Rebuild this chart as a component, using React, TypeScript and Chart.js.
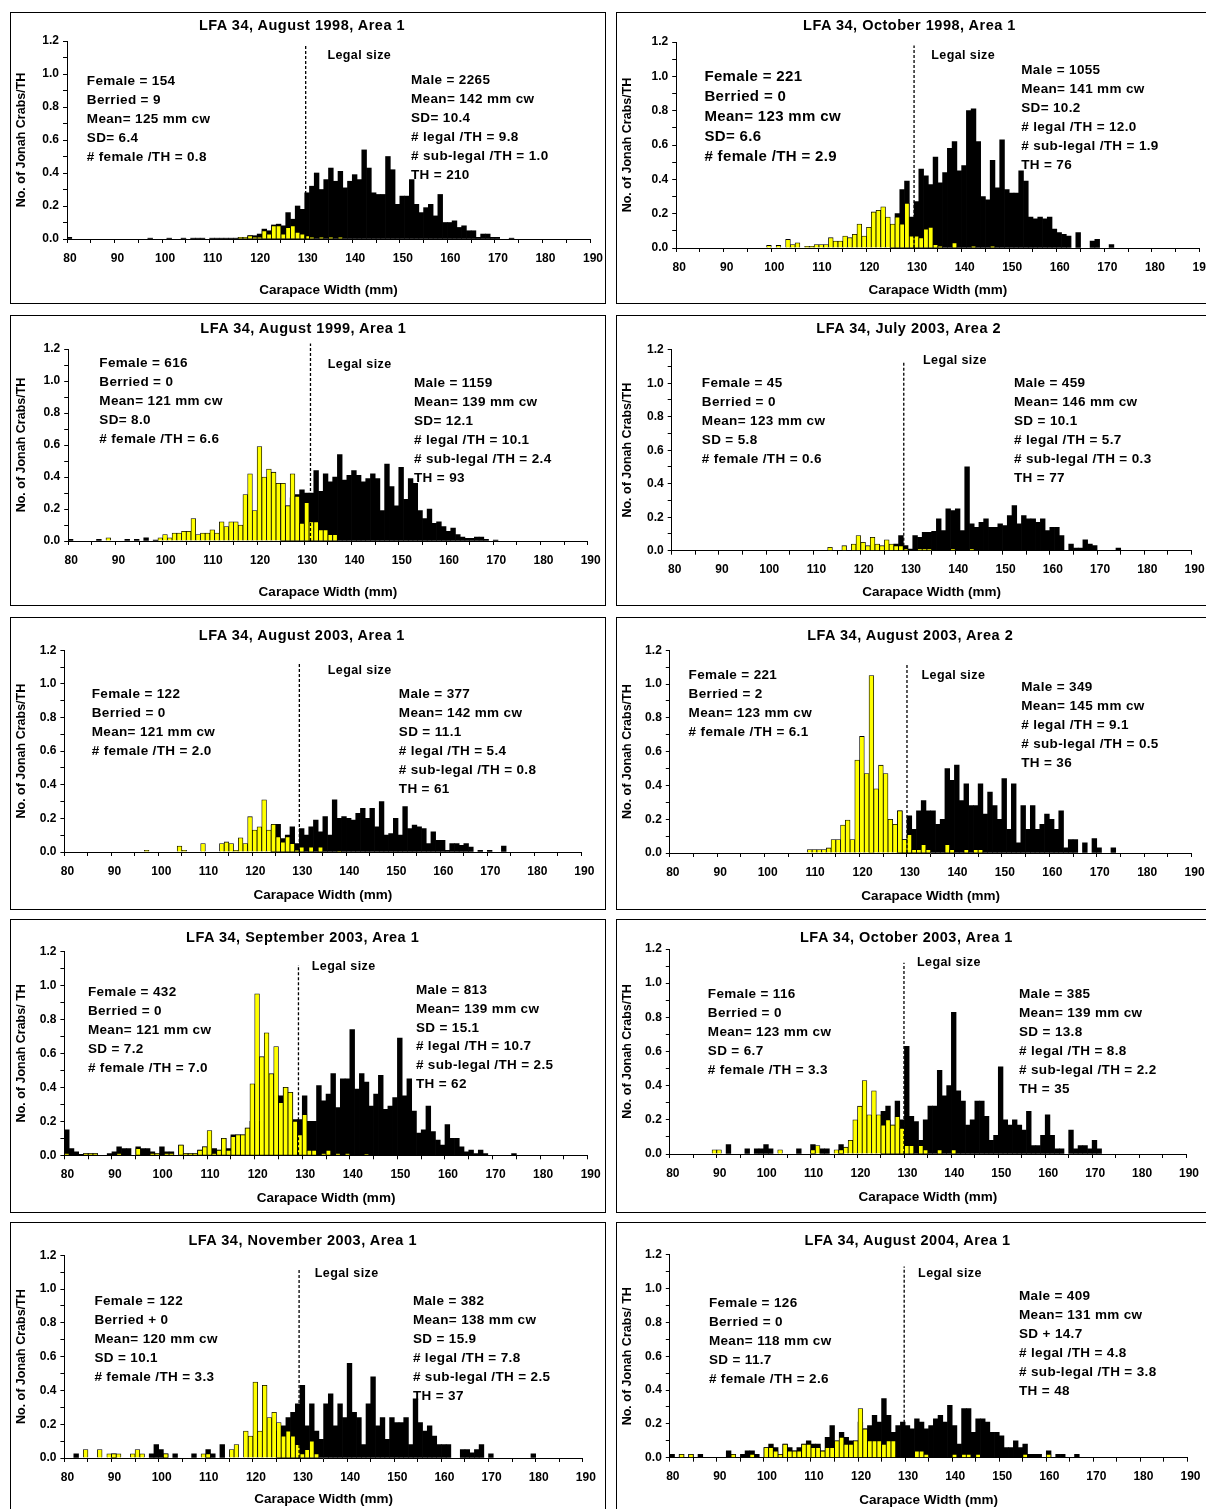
import React, { useEffect, useRef } from 'react';
import { Chart, registerables } from 'chart.js';

Chart.register(...registerables);

const FONT = '"Liberation Sans", Arial, Helvetica, sans-serif';

// ---------- axes / tick labels ----------
const xMin = 80;
const xMax = 190;
const xTickStep = 5;
const xLabelStep = 10;
const yMin = 0;
const yMax = 1.2;
const yTickStep = 0.1;
const xAxisTitle = 'Carapace Width (mm)';
const legalLabel = 'Legal size';

// ---------- data: No. of Jonah crabs / TH per 1 mm bin (value i -> bin start + i) ----------
// LFA 34, August 1998, Area 1
const aug1998A1FemaleStart = 110;
const aug1998A1Female = [
  0, 0, 0, 0, 0, 0, 0.01, 0.01, 0.02, 0.01,
  0.01, 0.05, 0.03, 0.08, 0.08, 0.03, 0.07, 0.08, 0.04, 0.03,
  0.02, 0.01, 0, 0.01, 0, 0.01, 0, 0.01,
];
const aug1998A1MaleStart = 80;
const aug1998A1Male = [
  0.01, 0, 0, 0, 0, 0, 0, 0, 0, 0,
  0, 0, 0, 0, 0, 0, 0, 0.005, 0, 0,
  0, 0.005, 0, 0, 0.005, 0, 0.005, 0.005, 0.005, 0,
  0.005, 0.005, 0.005, 0.005, 0.005, 0.005, 0.01, 0.01, 0.02, 0.02,
  0.03, 0.06, 0.05, 0.085, 0.09, 0.08, 0.16, 0.12, 0.2, 0.18,
  0.28, 0.32, 0.4, 0.3, 0.36, 0.43, 0.35, 0.41, 0.31, 0.35,
  0.39, 0.36, 0.54, 0.43, 0.28, 0.27, 0.27, 0.5, 0.42, 0.21,
  0.26, 0.26, 0.36, 0.21, 0.16, 0.19, 0.21, 0.14, 0.27, 0.1,
  0.1, 0.11, 0.07, 0.08, 0.05, 0.05, 0.01, 0.03, 0.03, 0.01,
  0.01, 0, 0, 0.005,
];

// LFA 34, October 1998, Area 1
const oct1998A1FemaleStart = 90;
const oct1998A1Female = [
  0, 0, 0, 0, 0, 0, 0, 0, 0, 0.015,
  0, 0.015, 0, 0.05, 0.02, 0.03, 0, 0.01, 0.01, 0.02,
  0.02, 0.02, 0.06, 0.04, 0.04, 0.07, 0.06, 0.08, 0.14, 0.07,
  0.12, 0.21, 0.22, 0.24, 0.18, 0.14, 0.18, 0.14, 0.26, 0.07,
  0.07, 0.06, 0.11, 0.12, 0.02, 0.01, 0, 0, 0.03, 0,
  0, 0, 0.01, 0, 0, 0, 0.01,
];
const oct1998A1MaleStart = 120;
const oct1998A1Male = [
  0, 0, 0, 0, 0, 0.1, 0.2, 0.34, 0.39, 0.18,
  0.27, 0.46, 0.42, 0.37, 0.53, 0.38, 0.44, 0.58, 0.62, 0.45,
  0.48, 0.8, 0.81, 0.62, 0.3, 0.28, 0.51, 0.35, 0.63, 0.34,
  0.32, 0.32, 0.45, 0.39, 0.18, 0.17, 0.18, 0.17, 0.18, 0.11,
  0.09, 0.08, 0.07, 0, 0.09, 0, 0, 0.04, 0.05, 0,
  0, 0.02,
];

// LFA 34, August 1999, Area 1
const aug1999A1FemaleStart = 80;
const aug1999A1Female = [
  0, 0, 0, 0, 0, 0, 0, 0, 0.02, 0,
  0, 0, 0, 0, 0, 0, 0, 0, 0, 0.02,
  0.04, 0.02, 0.05, 0.05, 0.06, 0.06, 0.14, 0.04, 0.05, 0.05,
  0.07, 0.05, 0.12, 0.09, 0.12, 0.12, 0.1, 0.29, 0.42, 0.19,
  0.59, 0.4, 0.45, 0.43, 0.36, 0.36, 0.22, 0.42, 0.28, 0.11,
  0.24, 0.12, 0.12, 0.07, 0.07, 0.04, 0.04,
];
const aug1999A1MaleStart = 80;
const aug1999A1Male = [
  0.01, 0, 0, 0, 0, 0, 0.01, 0, 0, 0,
  0, 0, 0.01, 0, 0.01, 0, 0.02, 0, 0.005, 0,
  0, 0, 0, 0, 0, 0, 0, 0, 0, 0,
  0, 0, 0, 0, 0, 0, 0, 0, 0, 0,
  0, 0, 0, 0, 0, 0.2, 0.22, 0.27, 0.29, 0.32,
  0.3, 0.3, 0.44, 0.31, 0.42, 0.37, 0.4, 0.54, 0.38, 0.41,
  0.44, 0.41, 0.37, 0.39, 0.42, 0.39, 0.19, 0.48, 0.34, 0.22,
  0.46, 0.26, 0.39, 0.36, 0.19, 0.14, 0.2, 0.11, 0.12, 0.09,
  0.06, 0.08, 0.04, 0.025, 0.017, 0.017, 0.025, 0.025, 0.01, 0,
  0.005,
];

// LFA 34, July 2003, Area 2
const jul2003A2FemaleStart = 110;
const jul2003A2Female = [
  0, 0, 0, 0.02, 0, 0, 0.03, 0, 0.04, 0.09,
  0.05, 0.03, 0.08, 0.04, 0.03, 0.065, 0.04, 0.03, 0.03, 0.01,
  0, 0, 0.01, 0.01, 0.01, 0, 0, 0, 0, 0.01,
  0, 0, 0, 0.01,
];
const jul2003A2MaleStart = 120;
const jul2003A2Male = [
  0, 0, 0, 0, 0, 0, 0.03, 0.04, 0.09, 0.03,
  0.01, 0.09, 0.08, 0.11, 0.11, 0.115, 0.19, 0.12, 0.25, 0.24,
  0.25, 0.12, 0.5, 0.16, 0.14, 0.17, 0.19, 0.14, 0.14, 0.16,
  0.15, 0.21, 0.27, 0.16, 0.21, 0.19, 0.19, 0.17, 0.19, 0.12,
  0.14, 0.14, 0.09, 0, 0.04, 0.015, 0.015, 0.065, 0.04, 0.03,
  0, 0, 0, 0, 0.015,
];

// LFA 34, August 2003, Area 1
const aug2003A1FemaleStart = 90;
const aug2003A1Female = [
  0, 0, 0, 0, 0, 0, 0, 0.01, 0, 0,
  0, 0, 0, 0, 0.035, 0.01, 0, 0, 0, 0.05,
  0, 0, 0, 0.05, 0.06, 0.05, 0.01, 0.085, 0.05, 0.21,
  0.13, 0.15, 0.31, 0.13, 0.165, 0.09, 0.06, 0.09, 0.05, 0.01,
  0.03, 0, 0.03, 0, 0.03, 0, 0, 0, 0.005,
];
const aug2003A1MaleStart = 120;
const aug2003A1Male = [
  0, 0, 0, 0, 0.16, 0.165, 0.08, 0.1, 0.15, 0.05,
  0.14, 0.1, 0.15, 0.19, 0.12, 0.21, 0.1, 0.31, 0.2, 0.21,
  0.2, 0.19, 0.23, 0.26, 0.2, 0.26, 0.15, 0.3, 0.1, 0.11,
  0.2, 0.1, 0.27, 0.14, 0.16, 0.15, 0.14, 0.05, 0.12, 0.07,
  0.07, 0.01, 0.05, 0.05, 0.04, 0.05, 0.03, 0, 0.01, 0,
  0.01, 0, 0, 0.035,
];

// LFA 34, August 2003, Area 2
const aug2003A2FemaleStart = 100;
const aug2003A2Female = [
  0, 0, 0, 0, 0, 0, 0, 0, 0, 0.02,
  0.02, 0.02, 0.02, 0.03, 0.08, 0.08, 0.165, 0.195, 0.08, 0.55,
  0.69, 0.47, 1.05, 0.38, 0.52, 0.47, 0.2, 0.17, 0.25, 0.08,
  0.11, 0.02, 0.02, 0.05, 0.02, 0, 0, 0, 0.05, 0.02,
  0, 0, 0.02, 0, 0.02, 0.02,
];
const aug2003A2MaleStart = 120;
const aug2003A2Male = [
  0, 0, 0, 0, 0, 0, 0, 0, 0.25, 0.08,
  0.22, 0.14, 0.25, 0.31, 0.25, 0.25, 0.17, 0.2, 0.5, 0.43,
  0.52, 0.31, 0.41, 0.28, 0.28, 0.41, 0.23, 0.36, 0.28, 0.2,
  0.44, 0.14, 0.41, 0.06, 0.28, 0.14, 0.28, 0.14, 0.17, 0.23,
  0.2, 0.14, 0.25, 0.03, 0.08, 0.08, 0, 0.06, 0, 0.085,
  0.03, 0, 0, 0.03,
];

// LFA 34, September 2003, Area 1
const sep2003A1FemaleStart = 80;
const sep2003A1Female = [
  0.01, 0, 0, 0, 0.01, 0.01, 0.01, 0, 0, 0,
  0, 0.01, 0, 0, 0, 0.04, 0, 0, 0.01, 0.01,
  0, 0.01, 0.01, 0, 0.06, 0.01, 0.01, 0.01, 0.03, 0.05,
  0.145, 0.01, 0.03, 0.1, 0.03, 0.11, 0.12, 0.12, 0.16, 0.42,
  0.95, 0.58, 0.72, 0.48, 0.64, 0.31, 0.4, 0.37, 0.2, 0.12,
  0.24, 0.03, 0.03, 0, 0.01, 0.03, 0, 0.01, 0, 0.01,
  0, 0, 0, 0.005,
];
const sep2003A1MaleStart = 80;
const sep2003A1Male = [
  0.15, 0.04, 0.02, 0.005, 0.01, 0.01, 0.01, 0, 0, 0.01,
  0.02, 0.05, 0.04, 0.04, 0, 0.05, 0.04, 0.04, 0.02, 0.01,
  0.05, 0.02, 0.02, 0, 0.06, 0.01, 0.01, 0.01, 0.03, 0.05,
  0.03, 0.04, 0.03, 0.1, 0.04, 0.12, 0.12, 0.12, 0.16, 0.2,
  0.2, 0.2, 0.25, 0.3, 0.35, 0.35, 0.4, 0.37, 0.21, 0.21,
  0.35, 0.2, 0.2, 0.41, 0.32, 0.36, 0.48, 0.28, 0.45, 0.45,
  0.74, 0.39, 0.48, 0.43, 0.29, 0.36, 0.47, 0.27, 0.29, 0.34,
  0.69, 0.35, 0.45, 0.26, 0.13, 0.15, 0.29, 0.14, 0.09, 0.06,
  0.18, 0.1, 0.1, 0.05, 0.02, 0.03, 0.01, 0.03, 0.01, 0,
  0, 0, 0, 0, 0.01,
];

// LFA 34, October 2003, Area 1
const oct2003A1FemaleStart = 80;
const oct2003A1Female = [
  0, 0, 0, 0, 0, 0, 0, 0, 0, 0.025,
  0.025, 0, 0, 0, 0, 0, 0, 0, 0, 0,
  0, 0, 0, 0.025, 0, 0, 0, 0, 0, 0,
  0.025, 0.05, 0, 0, 0, 0.025, 0.025, 0.04, 0.08, 0.2,
  0.28, 0.43, 0.23, 0.37, 0.23, 0.17, 0.2, 0.17, 0.22, 0.15,
  0.05, 0.05, 0, 0.05, 0.025, 0, 0, 0.025, 0, 0,
  0.025,
];
const oct2003A1MaleStart = 90;
const oct2003A1Male = [
  0, 0, 0.055, 0, 0, 0, 0.03, 0, 0.03, 0.03,
  0.055, 0.03, 0, 0, 0, 0, 0, 0.03, 0, 0,
  0.055, 0, 0.03, 0.03, 0, 0, 0.055, 0, 0, 0,
  0, 0, 0, 0, 0, 0.25, 0.28, 0.17, 0.31, 0.2,
  0.63, 0.22, 0.19, 0.08, 0.2, 0.28, 0.28, 0.49, 0.34, 0.4,
  0.83, 0.37, 0.31, 0.17, 0.2, 0.31, 0.31, 0.22, 0.08, 0.11,
  0.51, 0.2, 0.17, 0.2, 0.17, 0.14, 0.25, 0.05, 0.05, 0.11,
  0.23, 0.11, 0.03, 0.03, 0, 0.14, 0.03, 0.05, 0.05, 0.03,
  0.08, 0.03,
];

// LFA 34, November 2003, Area 1
const nov2003A1FemaleStart = 80;
const nov2003A1Female = [
  0, 0, 0, 0, 0.05, 0, 0, 0.05, 0, 0.025,
  0.025, 0.025, 0, 0, 0.025, 0.05, 0.025, 0, 0, 0,
  0, 0.025, 0, 0, 0, 0, 0, 0, 0, 0.025,
  0.025, 0, 0, 0, 0, 0.05, 0.08, 0, 0.16, 0.13,
  0.45, 0.16, 0.43, 0.24, 0.27, 0.21, 0.13, 0.16, 0.13, 0.08,
  0.025, 0.05, 0.1, 0.025,
];
const nov2003A1MaleStart = 80;
const nov2003A1Male = [
  0, 0, 0.025, 0, 0, 0, 0, 0, 0, 0,
  0.025, 0, 0, 0, 0, 0, 0, 0, 0.025, 0.08,
  0.05, 0.025, 0, 0.025, 0, 0, 0, 0.025, 0, 0,
  0.05, 0.025, 0, 0.08, 0, 0, 0, 0, 0, 0,
  0, 0, 0, 0, 0, 0.16, 0.19, 0.24, 0.27, 0.32,
  0.43, 0.19, 0.32, 0.16, 0.11, 0.32, 0.38, 0.19, 0.32, 0.24,
  0.56, 0.27, 0.24, 0.08, 0.32, 0.48, 0.19, 0.24, 0.11, 0.24,
  0.21, 0.21, 0.24, 0.08, 0.35, 0.21, 0.16, 0.19, 0.13, 0.08,
  0.08, 0.08, 0, 0, 0.05, 0.05, 0.03, 0.05, 0.08, 0,
  0.025, 0, 0, 0, 0, 0, 0, 0, 0, 0.025,
];

// LFA 34, August 2004, Area 1
const aug2004A1FemaleStart = 80;
const aug2004A1Female = [
  0, 0, 0.02, 0, 0.02, 0, 0, 0, 0, 0,
  0, 0, 0, 0.02, 0, 0, 0, 0.02, 0, 0,
  0.06, 0.06, 0.04, 0.02, 0.08, 0.04, 0.04, 0.04, 0.08, 0.08,
  0.06, 0.06, 0.04, 0.06, 0.06, 0.1, 0.12, 0.08, 0.08, 0.1,
  0.29, 0.17, 0.1, 0.1, 0.1, 0.08, 0.1, 0.1, 0, 0,
  0, 0, 0.04, 0.04, 0.02, 0, 0, 0, 0, 0,
  0.02, 0, 0.02, 0.02, 0, 0.02, 0, 0, 0, 0,
  0, 0, 0, 0, 0, 0.02, 0, 0, 0, 0,
  0.02,
];
const aug2004A1MaleStart = 80;
const aug2004A1Male = [
  0.02, 0, 0.02, 0, 0.02, 0, 0.02, 0, 0, 0,
  0, 0, 0.04, 0.02, 0, 0.02, 0.04, 0.04, 0.02, 0,
  0.06, 0.08, 0.06, 0.02, 0.08, 0.06, 0.04, 0.06, 0.08, 0.1,
  0.08, 0.08, 0.04, 0.12, 0.19, 0.1, 0.15, 0.12, 0.1, 0.1,
  0.21, 0.17, 0.19, 0.25, 0.21, 0.35, 0.25, 0.15, 0.19, 0.21,
  0.19, 0.17, 0.23, 0.21, 0.17, 0.19, 0.23, 0.25, 0.21, 0.31,
  0.19, 0.08, 0.29, 0.29, 0.15, 0.23, 0.23, 0.21, 0.15, 0.15,
  0.13, 0.06, 0.06, 0.1, 0.06, 0.08, 0.02, 0.02, 0.02, 0,
  0.04, 0, 0.02, 0.02, 0, 0, 0.02,
];

// ---------- panel definitions ----------
type TextBlock = { x: number; y: number; step: number; size: number; lines: string[] };
type PanelDef = {
  title: string;
  yTitle: string;
  femaleStart: number;
  female: number[];
  maleStart: number;
  male: number[];
  legal: number;
  legalTop: number;
  box: { x: number; y: number; w: number; h: number };
  area: { left: number; top: number; right: number; bottom: number };
  titlePos: { cx: number; cy: number };
  legalPos: { x: number; cy: number };
  xTitleCy: number;
  yTitleCx: number;
  femaleText: TextBlock;
  maleText: TextBlock;
};

const Y_TITLE = 'No. of Jonah Crabs/TH';
const Y_TITLE_SP = 'No. of Jonah Crabs/ TH';
const CANVAS_EXTRA = 30;

const panels: PanelDef[] = [
  {
    title: 'LFA 34, August 1998, Area 1', yTitle: Y_TITLE,
    femaleStart: aug1998A1FemaleStart, female: aug1998A1Female,
    maleStart: aug1998A1MaleStart, male: aug1998A1Male,
    legal: 130.2, legalTop: 1.18,
    box: { x: 10, y: 12, w: 596, h: 292 },
    area: { left: 57, top: 29, right: 580, bottom: 227 },
    titlePos: { cx: 292, cy: 12.7 }, legalPos: { x: 317.4, cy: 43.3 },
    xTitleCy: 278.3, yTitleCx: 11.4,
    femaleText: { x: 76.8, y: 69.3, step: 19, size: 13.5, lines: ['Female = 154', 'Berried = 9', 'Mean= 125 mm cw', 'SD= 6.4', '# female /TH = 0.8'] },
    maleText: { x: 401, y: 68.3, step: 19, size: 13.5, lines: ['Male = 2265', 'Mean= 142 mm cw', 'SD= 10.4', '# legal /TH = 9.8', '# sub-legal /TH = 1.0', 'TH = 210'] },
  },
  {
    title: 'LFA 34, October 1998, Area 1', yTitle: Y_TITLE,
    femaleStart: oct1998A1FemaleStart, female: oct1998A1Female,
    maleStart: oct1998A1MaleStart, male: oct1998A1Male,
    legal: 130, legalTop: 1.18,
    box: { x: 616, y: 12, w: 592, h: 292 },
    area: { left: 60.2, top: 30, right: 583.5, bottom: 236 },
    titlePos: { cx: 293.5, cy: 12.7 }, legalPos: { x: 315.3, cy: 42.7 },
    xTitleCy: 278.7, yTitleCx: 11.3,
    femaleText: { x: 88.4, y: 64, step: 20, size: 15, lines: ['Female = 221', 'Berried = 0', 'Mean= 123 mm cw', 'SD= 6.6', '# female /TH = 2.9'] },
    maleText: { x: 405.2, y: 58.3, step: 19, size: 13.5, lines: ['Male = 1055', 'Mean= 141 mm cw', 'SD= 10.2', '# legal /TH = 12.0', '# sub-legal /TH = 1.9', 'TH = 76'] },
  },
  {
    title: 'LFA 34, August 1999, Area 1', yTitle: Y_TITLE,
    femaleStart: aug1999A1FemaleStart, female: aug1999A1Female,
    maleStart: aug1999A1MaleStart, male: aug1999A1Male,
    legal: 131.3, legalTop: 1.235,
    box: { x: 10, y: 315, w: 596, h: 291 },
    area: { left: 58.2, top: 34, right: 577.7, bottom: 226 },
    titlePos: { cx: 293.4, cy: 13.3 }, legalPos: { x: 317.8, cy: 49 },
    xTitleCy: 277, yTitleCx: 11.4,
    femaleText: { x: 89.3, y: 47.7, step: 19, size: 13.5, lines: ['Female = 616', 'Berried = 0', 'Mean= 121 mm cw', 'SD= 8.0', '# female /TH = 6.6'] },
    maleText: { x: 404, y: 68.3, step: 19, size: 13.5, lines: ['Male = 1159', 'Mean= 139 mm cw', 'SD= 12.1', '# legal /TH = 10.1', '# sub-legal /TH = 2.4', 'TH = 93'] },
  },
  {
    title: 'LFA 34, July 2003, Area 2', yTitle: Y_TITLE,
    femaleStart: jul2003A2FemaleStart, female: jul2003A2Female,
    maleStart: jul2003A2MaleStart, male: jul2003A2Male,
    legal: 129.1, legalTop: 1.13,
    box: { x: 616, y: 315, w: 592, h: 291 },
    area: { left: 55.7, top: 34.7, right: 575.6, bottom: 235.7 },
    titlePos: { cx: 292.7, cy: 13.3 }, legalPos: { x: 307, cy: 45.3 },
    xTitleCy: 277.3, yTitleCx: 11.3,
    femaleText: { x: 85.8, y: 68.3, step: 19, size: 13.5, lines: ['Female = 45', 'Berried = 0', 'Mean= 123 mm cw', 'SD = 5.8', '# female /TH = 0.6'] },
    maleText: { x: 398, y: 67.7, step: 19, size: 13.5, lines: ['Male = 459', 'Mean= 146 mm cw', 'SD = 10.1', '# legal /TH = 5.7', '# sub-legal /TH = 0.3', 'TH = 77'] },
  },
  {
    title: 'LFA 34, August 2003, Area 1', yTitle: Y_TITLE,
    femaleStart: aug2003A1FemaleStart, female: aug2003A1Female,
    maleStart: aug2003A1MaleStart, male: aug2003A1Male,
    legal: 130, legalTop: 1.12,
    box: { x: 10, y: 617, w: 596, h: 293 },
    area: { left: 54.4, top: 33.3, right: 571.3, bottom: 235 },
    titlePos: { cx: 291.9, cy: 18.3 }, legalPos: { x: 317.8, cy: 52.7 },
    xTitleCy: 278.7, yTitleCx: 11.4,
    femaleText: { x: 81.7, y: 77.3, step: 19, size: 13.5, lines: ['Female = 122', 'Berried = 0', 'Mean= 121 mm cw', '# female /TH = 2.0'] },
    maleText: { x: 388.8, y: 77.3, step: 19, size: 13.5, lines: ['Male = 377', 'Mean= 142 mm cw', 'SD = 11.1', '# legal /TH = 5.4', '# sub-legal /TH = 0.8', 'TH = 61'] },
  },
  {
    title: 'LFA 34, August 2003, Area 2', yTitle: Y_TITLE,
    femaleStart: aug2003A2FemaleStart, female: aug2003A2Female,
    maleStart: aug2003A2MaleStart, male: aug2003A2Male,
    legal: 130, legalTop: 1.12,
    box: { x: 616, y: 617, w: 592, h: 293 },
    area: { left: 53.8, top: 33.3, right: 575.6, bottom: 236 },
    titlePos: { cx: 294.2, cy: 18.3 }, legalPos: { x: 305.5, cy: 57.7 },
    xTitleCy: 279.3, yTitleCx: 11.3,
    femaleText: { x: 72.6, y: 58.3, step: 19, size: 13.5, lines: ['Female = 221', 'Berried = 2', 'Mean= 123 mm cw', '# female /TH = 6.1'] },
    maleText: { x: 405.2, y: 70, step: 19, size: 13.5, lines: ['Male = 349', 'Mean= 145 mm cw', '# legal /TH = 9.1', '# sub-legal /TH = 0.5', 'TH = 36'] },
  },
  {
    title: 'LFA 34, September 2003, Area 1', yTitle: Y_TITLE_SP,
    femaleStart: sep2003A1FemaleStart, female: sep2003A1Female,
    maleStart: sep2003A1MaleStart, male: sep2003A1Male,
    legal: 129.2, legalTop: 1.12,
    box: { x: 10, y: 919, w: 596, h: 294 },
    area: { left: 54.4, top: 32.3, right: 577.7, bottom: 236.3 },
    titlePos: { cx: 292.7, cy: 18.3 }, legalPos: { x: 301.8, cy: 46.7 },
    xTitleCy: 279.3, yTitleCx: 11.4,
    femaleText: { x: 77.9, y: 72.7, step: 19, size: 13.5, lines: ['Female = 432', 'Berried = 0', 'Mean= 121 mm cw', 'SD = 7.2', '# female /TH = 7.0'] },
    maleText: { x: 405.9, y: 71, step: 18.8, size: 13.5, lines: ['Male = 813', 'Mean= 139 mm cw', 'SD = 15.1', '# legal /TH = 10.7', '# sub-legal /TH = 2.5', 'TH = 62'] },
  },
  {
    title: 'LFA 34, October 2003, Area 1', yTitle: Y_TITLE,
    femaleStart: oct2003A1FemaleStart, female: oct2003A1Female,
    maleStart: oct2003A1MaleStart, male: oct2003A1Male,
    legal: 129.9, legalTop: 1.12,
    box: { x: 616, y: 919, w: 592, h: 294 },
    area: { left: 53.8, top: 30, right: 570, bottom: 235 },
    titlePos: { cx: 290.4, cy: 17.7 }, legalPos: { x: 301, cy: 43.3 },
    xTitleCy: 278.3, yTitleCx: 11.3,
    femaleText: { x: 91.8, y: 75.3, step: 19, size: 13.5, lines: ['Female = 116', 'Berried = 0', 'Mean= 123 mm cw', 'SD = 6.7', '# female /TH = 3.3'] },
    maleText: { x: 403, y: 75.3, step: 19, size: 13.5, lines: ['Male = 385', 'Mean= 139 mm cw', 'SD = 13.8', '# legal /TH = 8.8', '# sub-legal /TH = 2.2', 'TH = 35'] },
  },
  {
    title: 'LFA 34, November 2003, Area 1', yTitle: Y_TITLE,
    femaleStart: nov2003A1FemaleStart, female: nov2003A1Female,
    maleStart: nov2003A1MaleStart, male: nov2003A1Male,
    legal: 129.8, legalTop: 1.12,
    box: { x: 10, y: 1222, w: 596, h: 290 },
    area: { left: 54.4, top: 33.3, right: 572.8, bottom: 236 },
    titlePos: { cx: 292.7, cy: 17.7 }, legalPos: { x: 304.8, cy: 50.7 },
    xTitleCy: 277.3, yTitleCx: 11.4,
    femaleText: { x: 84.4, y: 78.7, step: 19, size: 13.5, lines: ['Female = 122', 'Berried + 0', 'Mean= 120 mm cw', 'SD = 10.1', '# female /TH = 3.3'] },
    maleText: { x: 402.9, y: 78.7, step: 19, size: 13.5, lines: ['Male = 382', 'Mean= 138 mm cw', 'SD = 15.9', '# legal /TH = 7.8', '# sub-legal /TH = 2.5', 'TH = 37'] },
  },
  {
    title: 'LFA 34, August 2004, Area 1', yTitle: Y_TITLE_SP,
    femaleStart: aug2004A1FemaleStart, female: aug2004A1Female,
    maleStart: aug2004A1MaleStart, male: aug2004A1Male,
    legal: 129.8, legalTop: 1.13,
    box: { x: 616, y: 1222, w: 592, h: 290 },
    area: { left: 53.8, top: 32.7, right: 571.5, bottom: 235.7 },
    titlePos: { cx: 291.6, cy: 17.7 }, legalPos: { x: 302.1, cy: 50.7 },
    xTitleCy: 278.3, yTitleCx: 11.3,
    femaleText: { x: 92.9, y: 81, step: 19, size: 13.5, lines: ['Female = 126', 'Berried = 0', 'Mean= 118 mm cw', 'SD = 11.7', '# female /TH = 2.6'] },
    maleText: { x: 403, y: 74, step: 19, size: 13.5, lines: ['Male = 409', 'Mean= 131 mm cw', 'SD + 14.7', '# legal /TH = 4.8', '# sub-legal /TH = 3.8', 'TH = 48'] },
  },
];

function toBars(start: number, values: number[]) {
  const out: { x: number; y: number }[] = [];
  values.forEach((v, i) => {
    if (v > 0) out.push({ x: start + i + 0.5, y: v });
  });
  return out;
}

const textStyle = (size: number): React.CSSProperties => ({
  position: 'absolute',
  fontFamily: FONT,
  fontWeight: 'bold',
  fontSize: size,
  letterSpacing: '0.35px',
  lineHeight: '16px',
  height: 16,
  whiteSpace: 'nowrap',
  color: '#000',
});

function Panel({ p }: { p: PanelDef }) {
  const ref = useRef<HTMLCanvasElement | null>(null);
  const cw = p.box.w + CANVAS_EXTRA;

  useEffect(() => {
    const canvas = ref.current;
    if (!canvas) return;
    const { h } = p.box;
    const a = p.area;
    const tickFont = { family: FONT, size: 12, weight: 'bold' };
    const xTitleFont = { family: FONT, size: 13.5, weight: 'bold' };
    const yTitleFont = { family: FONT, size: 12.5, weight: 'bold' };
    const chart = new Chart(canvas, {
      type: 'bar',
      data: {
        datasets: [
          {
            type: 'line',
            label: legalLabel,
            data: [
              { x: p.legal, y: 0 },
              { x: p.legal, y: p.legalTop },
            ],
            borderColor: '#000',
            borderWidth: 1.3,
            borderDash: [3, 2],
            pointRadius: 0,
            fill: false,
            clip: false,
            order: 0,
          },
          {
            type: 'bar',
            label: 'Female',
            data: toBars(p.femaleStart, p.female),
            backgroundColor: '#ffff00',
            borderColor: '#000',
            borderWidth: 0.8,
            grouped: false,
            barPercentage: 1,
            categoryPercentage: 1,
            order: 1,
          },
          {
            type: 'bar',
            label: 'Male',
            data: toBars(p.maleStart, p.male),
            backgroundColor: '#000',
            borderColor: '#000',
            borderWidth: 0,
            grouped: false,
            barPercentage: 1,
            categoryPercentage: 1,
            order: 2,
          },
        ],
      },
      options: {
        responsive: false,
        maintainAspectRatio: false,
        animation: false,
        devicePixelRatio: 1,
        events: [],
        layout: { padding: { left: 0, top: a.top, right: cw - a.right, bottom: 0 } },
        plugins: {
          legend: { display: false },
          tooltip: { enabled: false },
          title: { display: false },
        },
        scales: {
          x: {
            type: 'linear',
            min: xMin,
            max: xMax,
            offset: false,
            afterFit: (s: any) => {
              s.height = h - a.bottom;
            },
            border: { display: true, color: '#000', width: 1 },
            grid: { display: true, drawOnChartArea: false, drawTicks: true, tickLength: 4, color: '#000', offset: false },
            ticks: {
              stepSize: xTickStep,
              autoSkip: false,
              maxRotation: 0,
              minRotation: 0,
              maxTicksLimit: 1000,
              padding: 8,
              labelOffset: 3,
              color: '#000',
              font: tickFont,
              callback: (v: any) => (Math.round(Number(v)) % xLabelStep === 0 ? String(Math.round(Number(v))) : ''),
            },
            title: {
              display: true,
              text: xAxisTitle,
              color: '#000',
              font: xTitleFont,
              padding: { top: 0, bottom: h - p.xTitleCy - 8.1 },
            },
          },
          y: {
            type: 'linear',
            min: yMin,
            max: yMax,
            afterFit: (s: any) => {
              s.width = a.left;
            },
            border: { display: true, color: '#000', width: 1 },
            grid: { display: true, drawOnChartArea: false, drawTicks: true, tickLength: 4, color: '#000' },
            ticks: {
              stepSize: yTickStep,
              autoSkip: false,
              maxTicksLimit: 1000,
              padding: 4,
              color: '#000',
              font: tickFont,
              callback: (v: any) => (Math.round(Number(v) * 10) % 2 === 0 ? Number(v).toFixed(1) : ''),
            },
            title: {
              display: true,
              text: p.yTitle,
              color: '#000',
              font: yTitleFont,
              padding: { top: p.yTitleCx - 7.5, bottom: 0 },
            },
          },
        },
      } as any,
    } as any);
    return () => chart.destroy();
  }, [p, cw]);

  const { x, y, w, h } = p.box;
  const block = (b: TextBlock, key: string) =>
    b.lines.map((line, i) => (
      <div key={key + i} style={{ ...textStyle(b.size), left: b.x, top: b.y + i * b.step - 8 }}>
        {line}
      </div>
    ));

  return (
    <div style={{ position: 'absolute', left: x, top: y, width: w, height: h }}>
      <div
        style={{
          position: 'absolute',
          left: 0,
          top: 0,
          width: w,
          height: h,
          boxSizing: 'border-box',
          border: '1px solid #000',
        }}
      />
      <canvas ref={ref} width={cw} height={h} style={{ position: 'absolute', left: 0, top: 0, width: cw, height: h }} />
      <div
        style={{
          ...textStyle(14.5),
          letterSpacing: '0.5px',
          left: p.titlePos.cx,
          top: p.titlePos.cy - 8,
          transform: 'translateX(-50%)',
        }}
      >
        {p.title}
      </div>
      <div style={{ ...textStyle(12.5), letterSpacing: '0.4px', left: p.legalPos.x, top: p.legalPos.cy - 8 }}>{legalLabel}</div>
      {block(p.femaleText, 'f')}
      {block(p.maleText, 'm')}
    </div>
  );
}

export default function App() {
  return (
    <div
      style={{
        position: 'absolute',
        left: 0,
        top: 0,
        width: 1206,
        height: 1509,
        overflow: 'hidden',
        background: '#fff',
      }}
    >
      {panels.map((p) => (
        <Panel key={p.title} p={p} />
      ))}
    </div>
  );
}
